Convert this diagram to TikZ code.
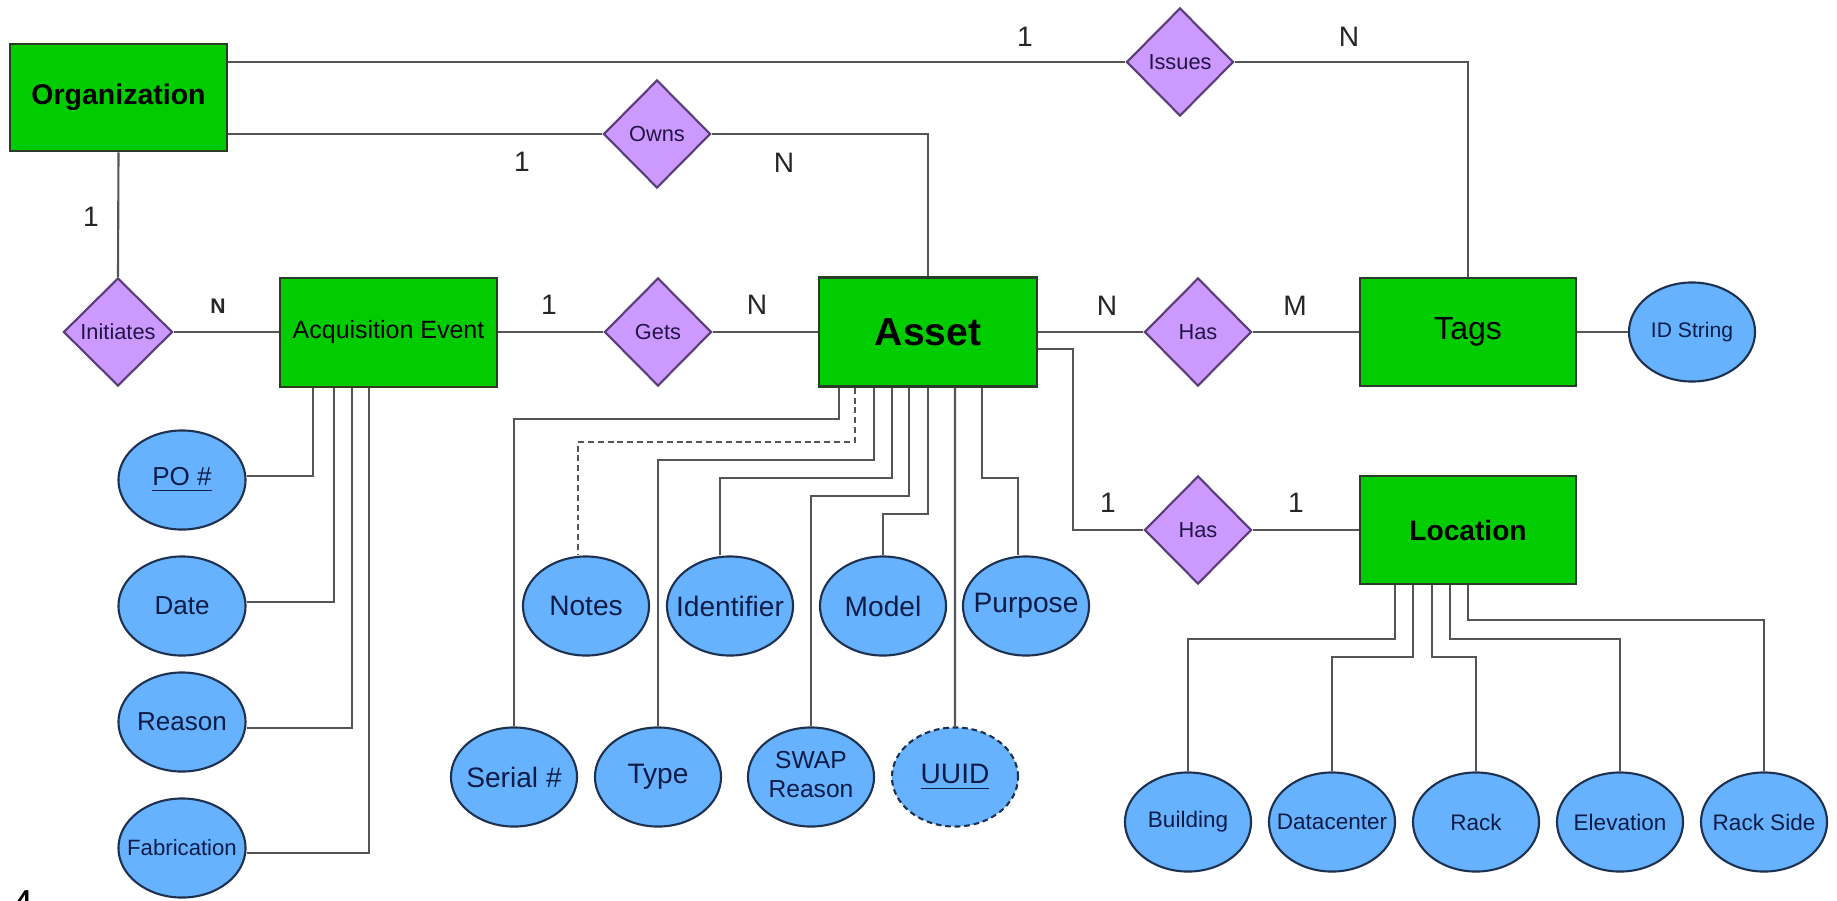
\documentclass[tikz,border=0pt]{standalone}
\usepackage{fontspec}
\setmainfont{Liberation Sans}
\usetikzlibrary{shapes.geometric}
\definecolor{entgreen}{RGB}{0,204,0}
\definecolor{relpurple}{RGB}{204,153,255}
\definecolor{attrblue}{RGB}{102,178,255}
\definecolor{linegray}{RGB}{85,85,85}
\definecolor{boxedge}{RGB}{40,60,40}
\definecolor{reledge}{RGB}{90,60,120}
\definecolor{attredge}{RGB}{30,50,80}
\definecolor{attrtext}{RGB}{12,28,70}
\definecolor{reltext}{RGB}{35,20,70}
\newcommand{\myfs}[1]{\fontsize{#1pt}{#1pt}\selectfont}
\newcommand{\zw}[1]{\makebox[0pt]{#1}}
\begin{document}
\begin{tikzpicture}[x=0.01cm,y=-0.01cm,
  ent/.style={rectangle, draw=boxedge, fill=entgreen, line width=0.7pt, minimum width=2.17cm, minimum height=1.08cm, inner sep=0pt},
  rel/.style={diamond, draw=reledge, fill=relpurple, line width=0.6pt, minimum width=1.07cm, minimum height=1.08cm, inner sep=0pt, text=reltext, font=\myfs{6.2}},
  attr/.style={ellipse, draw=attredge, fill=attrblue, line width=0.6pt, minimum width=1.26cm, minimum height=0.99cm, inner sep=0pt, text=attrtext},
  conn/.style={draw=linegray, line width=0.6pt},
  card/.style={font=\myfs{8}, inner sep=0pt, text=black!85},
]
\fill[white] (0,0) rectangle (1837,900);
\useasboundingbox (0,0) rectangle (1837,900);

% entities
\node[ent, minimum width=2.17cm, minimum height=1.07cm, font=\myfs{8.1}\bfseries] (org) at (118.5,97.5) {Organization};
\node[ent, minimum height=1.09cm, font=\myfs{7.1}] (acq) at (388.5,332.5) {Acquisition Event};
\node[ent, minimum width=2.18cm, minimum height=1.09cm, font=\myfs{11.1}\bfseries] (asset) at (928,332) {Asset};
\node[ent, minimum width=2.16cm, font=\myfs{9.1}] (tags) at (1468,332) {Tags};
\node[ent, minimum width=2.16cm, font=\myfs{8}\bfseries] (loc) at (1468,530) {Location};

% relationships
\node[rel] (issues) at (1180,62) {\zw{Issues}};
\node[rel] (owns) at (657,134) {\zw{Owns}};
\node[rel, minimum width=1.09cm] (init) at (118,332) {\zw{Initiates}};
\node[rel] (gets) at (658,332) {\zw{Gets}};
\node[rel] (has1) at (1198,332) {\zw{Has}};
\node[rel] (has2) at (1198,530) {\zw{Has}};

% attributes of Acquisition Event
\node[attr, minimum width=1.27cm, font=\myfs{7.4}] (po) at (182,480) {\zw{\underline{PO \#}}};
\node[attr, minimum width=1.27cm, font=\myfs{7.4}] (date) at (182,606) {\zw{Date}};
\node[attr, minimum width=1.27cm, font=\myfs{7.4}] (reason) at (182,722) {\zw{Reason}};
\node[attr, minimum width=1.27cm, font=\myfs{6.3}] (fab) at (182,848) {\zw{Fabrication}};

% attributes of Asset
\node[attr, font=\myfs{8}] (notes) at (586,606) {\zw{Notes}};
\node[attr, font=\myfs{8}] (ident) at (730,606) {\zw{Identifier}};
\node[attr, font=\myfs{8}] (model) at (883,606) {\zw{Model}};
\node[attr, font=\myfs{8}] (purpose) at (1026,606) {\zw{Purpose}};
\node[attr, font=\myfs{8}] (serial) at (514,777) {\zw{Serial \#}};
\node[attr, font=\myfs{8}] (type) at (658,777) {\zw{Type}};
\node[attr, font=\myfs{7}] (swap) at (811,777) {\zw{\fontsize{7pt}{8.3pt}\selectfont\begin{tabular}{@{}c@{}}SWAP\\Reason\end{tabular}}};
\node[attr, dash pattern=on 1.6pt off 1.1pt, font=\myfs{8}] (uuid) at (955,777) {\zw{\underline{UUID}}};

% attribute of Tags
\node[attr, font=\myfs{6}] (idstr) at (1692,332) {\zw{ID String}};

% attributes of Location
\node[attr, font=\myfs{6.4}] (building) at (1188,822) {\zw{Building}};
\node[attr, font=\myfs{6.4}] (dc) at (1332,822) {\zw{Datacenter}};
\node[attr, font=\myfs{6.4}] (rack) at (1476,822) {\zw{Rack}};
\node[attr, font=\myfs{6.4}] (elev) at (1620,822) {\zw{Elevation}};
\node[attr, font=\myfs{6.4}] (rackside) at (1764,822) {\zw{Rack Side}};

% relationship connectors
\draw[conn] (org.east |- issues.west) -- (issues.west);
\draw[conn] (issues.east) -| (tags.north);
\draw[conn] (org.east |- owns.west) -- (owns.west);
\draw[conn] (owns.east) -| (asset.north);
\draw[conn] (org.south) -- (init.north);
\draw[conn] (init.east) -- (init.east -| acq.west);
\draw[conn] (acq.east |- gets.west) -- (gets.west);
\draw[conn] (gets.east) -- (gets.east -| asset.west);
\draw[conn] (asset.east |- has1.west) -- (has1.west);
\draw[conn] (has1.east) -- (has1.east -| tags.west);
\draw[conn] (tags.east |- idstr.west) -- (idstr.west);
\draw[conn] ([yshift=-0.17cm]asset.east) -- ++(35,0) |- (has2.west);
\draw[conn] (has2.east) -- (has2.east -| loc.west);

% Acquisition Event attribute connectors
\draw[conn] ([xshift=-0.755cm]acq.south) |- ([yshift=0.04cm]po.east);
\draw[conn] ([xshift=-0.545cm]acq.south) |- ([yshift=0.04cm]date.east);
\draw[conn] ([xshift=-0.365cm]acq.south) |- ([yshift=-0.06cm]reason.east);
\draw[conn] ([xshift=-0.195cm]acq.south) |- ([yshift=-0.05cm]fab.east);

% Asset attribute connectors
\draw[conn] ([xshift=-0.89cm]asset.south) -- ++(0,31) -| (serial.north);
\draw[conn, dash pattern=on 1.7pt off 1.1pt] ([xshift=-0.73cm]asset.south) -- ++(0,54) -| ([xshift=-0.08cm]notes.north);
\draw[conn] ([xshift=-0.54cm]asset.south) -- ++(0,72) -| (type.north);
\draw[conn] ([xshift=-0.36cm]asset.south) -- ++(0,90) -| ([xshift=-0.1cm]ident.north);
\draw[conn] ([xshift=-0.19cm]asset.south) -- ++(0,108) -| (swap.north);
\draw[conn] (asset.south) -- ++(0,126) -| (model.north);
\draw[conn] ([xshift=0.27cm]asset.south) -- (uuid.north);
\draw[conn] ([xshift=0.54cm]asset.south) -- ++(0,90) -| ([xshift=-0.08cm]purpose.north);

% Location attribute connectors
\draw[conn] ([xshift=-0.73cm]loc.south) -- ++(0,54) -| (building.north);
\draw[conn] ([xshift=-0.55cm]loc.south) -- ++(0,72) -| (dc.north);
\draw[conn] ([xshift=-0.36cm]loc.south) -- ++(0,72) -| (rack.north);
\draw[conn] ([xshift=-0.18cm]loc.south) -- ++(0,54) -| (elev.north);
\draw[conn] (loc.south) -- ++(0,35) -| (rackside.north);

% cardinalities
\node[card] (c1) at (1025,37) {1};
\node[card] (c2) at (1349,37) {N};
\node[card] (c3) at (522,162) {1};
\node[card] (c4) at (784,163) {N};
\node[card] (c5) at (91,217) {1};
\node[card, font=\myfs{6}\bfseries] (c6) at (218,306) {N};
\node[card] (c7) at (549,305) {1};
\node[card] (c8) at (757,305) {N};
\node[card] (c9) at (1107,306) {N};
\node[card] (c10) at (1295,306) {M};
\node[card] (c11) at (1108,503) {1};
\node[card] (c12) at (1296,503) {1};

% page number fragment
\node[anchor=base west, inner sep=0pt, font=\myfs{11.5}] (pg) at (11,918) {4};
\end{tikzpicture}
\end{document}
